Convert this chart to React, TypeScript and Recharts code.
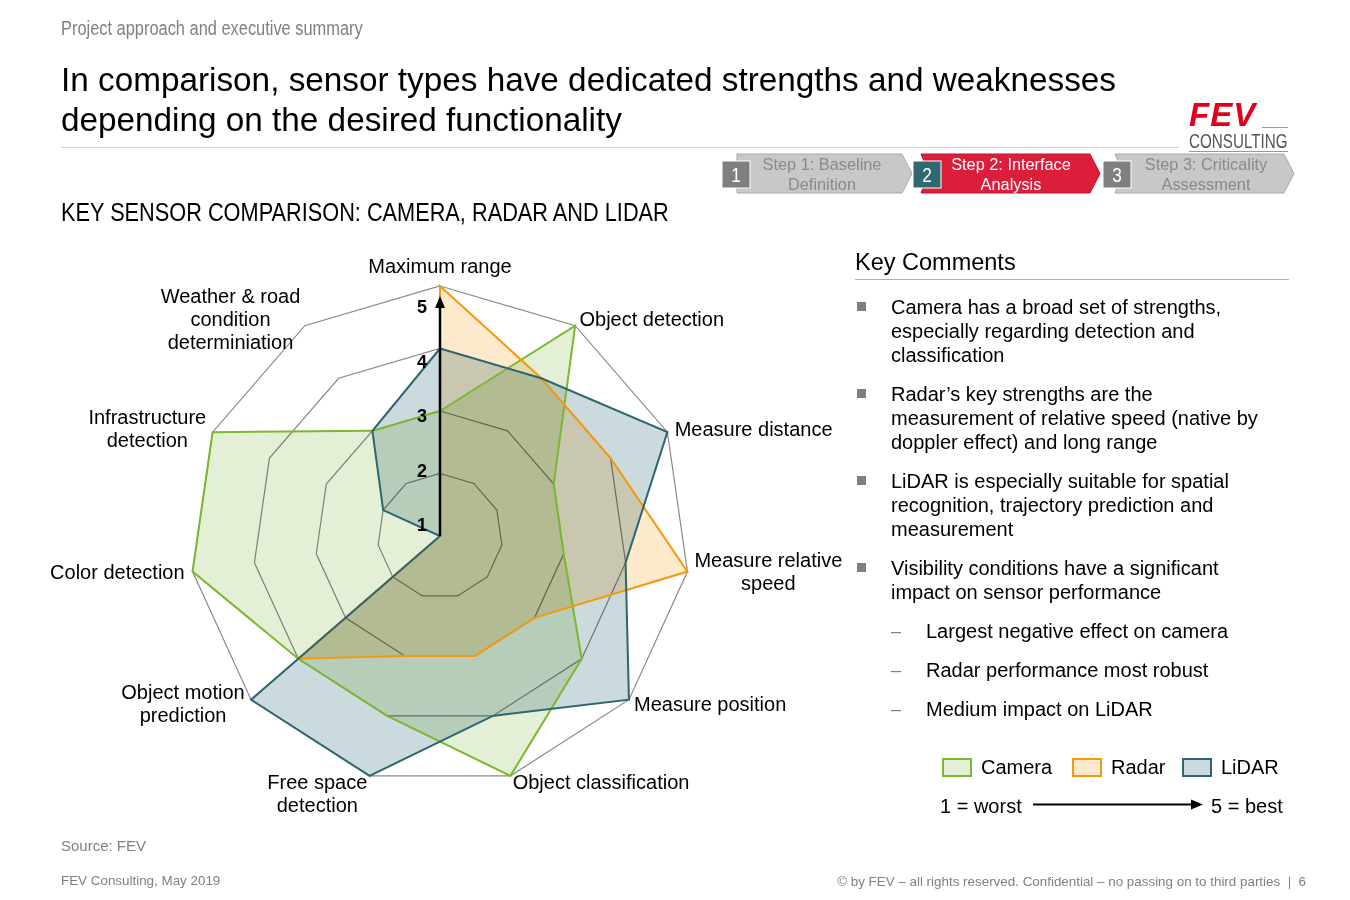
import React from 'react';
import { RadarChart, Radar, PolarGrid, PolarAngleAxis, PolarRadiusAxis } from 'recharts';

// sensor ratings, 1 = worst .. 5 = best, clockwise from the top
const categories = [
  'Maximum range',
  'Object detection',
  'Measure distance',
  'Measure relative\nspeed',
  'Measure position',
  'Object classification',
  'Free space\ndetection',
  'Object motion\nprediction',
  'Color detection',
  'Infrastructure\ndetection',
  'Weather & road\ncondition\ndeterminiation',
];
const camera = [3, 5, 3, 3, 4, 5, 4, 4, 5, 5, 3];
const radar = [5, 4, 4, 5, 3, 3, 3, 4, 1, 1, 1];
const lidar = [4, 4, 5, 4, 5, 4, 5, 5, 1, 2, 3];
const scaleTicks = [1, 2, 3, 4, 5];

const data = categories.map((subject, i) => ({
  subject,
  camera: camera[i],
  radar: radar[i],
  lidar: lidar[i],
}));

const SANS = '"Liberation Sans", Arial, Helvetica, sans-serif';
const NARROW_SCALE = 0.82; // no narrow face installed, so squeeze Liberation Sans

const COLORS = {
  camera: { stroke: '#7cb82f', fill: '#e3f0d6' },
  radar: { stroke: '#f39a0e', fill: '#fde9cb' },
  lidar: { stroke: '#2e6570', fill: '#cbdadd' },
};
const seriesKeys = ['camera', 'radar', 'lidar'] as const;

// chart geometry (chart is placed at page left 0, top 230)
const W = 880;
const H = 620;
const CX = 440;
const CY = 306;
const R = 250;

// where each category label sits relative to the point just outside its axis
const labelLayout: { anchor: 'start' | 'middle' | 'end'; dx: number; dy: number }[] = [
  { anchor: 'middle', dx: 0, dy: -12 },
  { anchor: 'start', dx: 0, dy: 0 },
  { anchor: 'start', dx: 0, dy: 0 },
  { anchor: 'middle', dx: 73, dy: -13 },
  { anchor: 'start', dx: -1, dy: -1 },
  { anchor: 'start', dx: 0, dy: -2 },
  { anchor: 'middle', dx: -50, dy: -2 },
  { anchor: 'middle', dx: -62, dy: -13 },
  { anchor: 'end', dx: 0, dy: -1 },
  { anchor: 'middle', dx: -58, dy: -12 },
  { anchor: 'middle', dx: -70, dy: -23 },
];

function AngleTick(props: any) {
  const label = String(props.payload?.value ?? '');
  const i = typeof props.index === 'number' ? props.index : categories.indexOf(label);
  const a = ((90 - (i * 360) / categories.length) * Math.PI) / 180;
  const x = CX + (R + 8) * Math.cos(a);
  const y = CY - (R + 8) * Math.sin(a);
  const l = labelLayout[i] || { anchor: 'middle', dx: 0, dy: 0 };
  return (
    <text textAnchor={l.anchor} fontSize={20} fill="#000" fontFamily={SANS}>
      {label.split('\n').map((ln, j) => (
        <tspan key={j} x={x + l.dx} y={y + l.dy + j * 23} dy="0.35em">
          {ln}
        </tspan>
      ))}
    </text>
  );
}

function RadiusTick(props: any) {
  const { y, payload } = props;
  const v = payload.value;
  // the scale numbers are drawn a bit compressed towards the centre, as in the slide
  const ly = CY - 11 - (CY - y) * 0.872;
  return (
    <g>
      {v === 5 && (
        <>
          <line x1={CX} y1={CY} x2={CX} y2={y + 18} stroke="#000" strokeWidth={2.5} />
          <polygon points={`${CX},${y + 10} ${CX - 5},${y + 22} ${CX + 5},${y + 22}`} fill="#000" />
        </>
      )}
      <text x={CX - 13} y={ly} dy="0.35em" textAnchor="end" fontWeight="bold" fontSize={18} fontFamily={SANS} fill="#000">
        {v}
      </text>
    </g>
  );
}

function SensorRadar() {
  return (
    <RadarChart
      width={W}
      height={H}
      data={data}
      cx={CX}
      cy={CY}
      outerRadius={R}
      margin={{ top: 0, right: 0, bottom: 0, left: 0 }}
      startAngle={90}
      endAngle={-270}
    >
      <PolarGrid gridType="polygon" radialLines={false} stroke="#8a8a8a" strokeWidth={1.2} />
      <PolarAngleAxis dataKey="subject" tick={AngleTick} tickLine={false} axisLine={false} />
      {/* fills first, blended like overlapping transparencies */}
      {seriesKeys.map((k) => (
        <Radar
          key={`fill-${k}`}
          className="rfill"
          dataKey={k}
          stroke="none"
          fill={COLORS[k].fill}
          fillOpacity={1}
          isAnimationActive={false}
        />
      ))}
      {/* outlines on top */}
      {seriesKeys.map((k) => (
        <Radar
          key={`line-${k}`}
          dataKey={k}
          stroke={COLORS[k].stroke}
          strokeWidth={2}
          fill="none"
          isAnimationActive={false}
        />
      ))}
      <PolarRadiusAxis
        angle={90}
        type="number"
        domain={[1, 5]}
        ticks={scaleTicks as any}
        tickCount={5}
        axisLine={false}
        tickLine={false}
        tick={RadiusTick}
      />
    </RadarChart>
  );
}

function Txt({ x, cy, size, children, color = '#000', lh, narrow, style }: any) {
  const lineH = lh || Math.round(size * 1.2);
  return (
    <div
      style={{
        position: 'absolute',
        left: x,
        top: cy - lineH / 2,
        fontSize: size,
        lineHeight: `${lineH}px`,
        color,
        fontFamily: SANS,
        whiteSpace: 'nowrap',
        transformOrigin: 'left center',
        transform: narrow ? `scaleX(${typeof narrow === 'number' ? narrow : NARROW_SCALE})` : undefined,
        ...style,
      }}
    >
      {children}
    </div>
  );
}

const comments = [
  { y: 307, lines: ['Camera has a broad set of strengths,', 'especially regarding detection and', 'classification'] },
  { y: 394, lines: ['Radar\u2019s key strengths are the', 'measurement of relative speed (native by', 'doppler effect) and long range'] },
  { y: 481, lines: ['LiDAR is especially suitable for spatial', 'recognition, trajectory prediction and', 'measurement'] },
  { y: 568, lines: ['Visibility conditions have a significant', 'impact on sensor performance'] },
];
const subComments = [
  { y: 631, text: 'Largest negative effect on camera' },
  { y: 670, text: 'Radar performance most robust' },
  { y: 709, text: 'Medium impact on LiDAR' },
];

const legendItems = [
  { key: 'camera', label: 'Camera', x: 942 },
  { key: 'radar', label: 'Radar', x: 1072 },
  { key: 'lidar', label: 'LiDAR', x: 1182 },
];

const steps = [
  { num: '1', box: '#7f7f7f', boxX: 722, cx: 822, color: '#8a8a8a', a: 'Step 1: Baseline', b: 'Definition' },
  { num: '2', box: '#2f6870', boxX: 913, cx: 1011, color: '#ffffff', a: 'Step 2: Interface', b: 'Analysis' },
  { num: '3', box: '#7f7f7f', boxX: 1103, cx: 1206, color: '#8a8a8a', a: 'Step 3: Criticality', b: 'Assessment' },
];

function Steps() {
  const grey = '#c8c8c8';
  return (
    <svg width={1350} height={210} style={{ position: 'absolute', left: 0, top: 0 }}>
      <polygon points="737,154 902,154 912,173.5 902,193 737,193" fill={grey} stroke="#a9a9a9" strokeWidth={1} />
      <polygon points="921,154 1090,154 1100,173.5 1090,193 921,193 929,173.5" fill="#dc1e3c" stroke="#c0142f" strokeWidth={1} />
      <polygon points="1115,154 1284,154 1294,173.5 1284,193 1115,193 1123,173.5" fill={grey} stroke="#a9a9a9" strokeWidth={1} />
      {steps.map((s) => (
        <g key={s.num}>
          <rect x={s.boxX} y={161} width={28} height={27} fill={s.box} stroke="#fff" strokeWidth={1} />
          <g transform={`translate(${s.boxX + 14},0) scale(${NARROW_SCALE},1)`}>
            <text x={0} y={175} dy="0.35em" textAnchor="middle" fill="#fff" fontSize={21} fontFamily={SANS}>
              {s.num}
            </text>
          </g>
          <g transform={`translate(${s.cx},0) scale(0.96,1)`}>
            <text textAnchor="middle" fill={s.color} fontSize={17} fontFamily={SANS}>
              <tspan x={0} y={164} dy="0.35em">{s.a}</tspan>
              <tspan x={0} y={184} dy="0.35em">{s.b}</tspan>
            </text>
          </g>
        </g>
      ))}
    </svg>
  );
}

export default function App() {
  return (
    <div style={{ position: 'absolute', left: 0, top: 0, width: 1350, height: 900, background: '#fff', overflow: 'hidden', fontFamily: SANS }}>
      <style>{`.rfill { mix-blend-mode: multiply; }`}</style>

      <Txt x={61} cy={28} size={20} color="#808080" narrow>Project approach and executive summary</Txt>
      <div style={{ position: 'absolute', left: 61, top: 60, fontSize: 33.3, lineHeight: '40px', color: '#000', fontFamily: SANS, whiteSpace: 'nowrap' }}>
        In comparison, sensor types have dedicated strengths and weaknesses
        <br />
        depending on the desired functionality
      </div>
      <div style={{ position: 'absolute', left: 61, top: 147, width: 1118, height: 1, background: '#d4d4d4' }} />

      {/* logo */}
      <Txt x={1189} cy={115} size={33} lh={26} color="#e2001a" style={{ fontWeight: 'bold', fontStyle: 'italic', letterSpacing: 1 }}>FEV</Txt>
      <div style={{ position: 'absolute', left: 1262, top: 127, width: 26, height: 1, background: '#9a9a9a' }} />
      <Txt x={1189} cy={141} size={20} lh={20} color="#555" narrow={0.76}>CONSULTING</Txt>
      <div style={{ position: 'absolute', left: 1189, top: 151, width: 99, height: 1, background: '#9a9a9a' }} />

      <Steps />

      <Txt x={61} cy={212} size={26.5} color="#000" narrow>KEY SENSOR COMPARISON: CAMERA, RADAR AND LIDAR</Txt>

      <div style={{ position: 'absolute', left: 0, top: 230 }}>
        <SensorRadar />
      </div>

      {/* key comments */}
      <Txt x={855} cy={262} size={23.5}>Key Comments</Txt>
      <div style={{ position: 'absolute', left: 855, top: 279, width: 434, height: 1, background: '#b0b0b0' }} />
      {comments.map((c) => (
        <React.Fragment key={c.y}>
          <div style={{ position: 'absolute', left: 857, top: c.y - 5, width: 9, height: 9, background: '#7f7f7f' }} />
          <div style={{ position: 'absolute', left: 891, top: c.y - 12, fontSize: 20, lineHeight: '24px', whiteSpace: 'nowrap', fontFamily: SANS }}>
            {c.lines.map((ln, j) => (
              <div key={j}>{ln}</div>
            ))}
          </div>
        </React.Fragment>
      ))}
      {subComments.map((s) => (
        <React.Fragment key={s.y}>
          <Txt x={891} cy={s.y} size={18} color="#7f7f7f">{'\u2013'}</Txt>
          <Txt x={926} cy={s.y} size={20}>{s.text}</Txt>
        </React.Fragment>
      ))}

      {/* legend */}
      {legendItems.map((it) => {
        const c = (COLORS as any)[it.key];
        return (
          <React.Fragment key={it.key}>
            <div style={{ position: 'absolute', left: it.x, top: 758, width: 30, height: 19, boxSizing: 'border-box', border: `2.5px solid ${c.stroke}`, background: c.fill }} />
            <Txt x={it.x + 39} cy={767} size={20}>{it.label}</Txt>
          </React.Fragment>
        );
      })}
      <Txt x={940} cy={806} size={20}>1 = worst</Txt>
      <svg width={200} height={20} style={{ position: 'absolute', left: 1030, top: 795 }}>
        <line x1={3} y1={9.5} x2={165} y2={9.5} stroke="#000" strokeWidth={2} />
        <polygon points="173,9.5 161,4.5 161,14.5" fill="#000" />
      </svg>
      <Txt x={1211} cy={806} size={20}>5 = best</Txt>

      {/* footer */}
      <Txt x={61} cy={846} size={15} color="#7f7f7f">Source: FEV</Txt>
      <Txt x={61} cy={881} size={13.4} color="#7f7f7f">FEV Consulting, May 2019</Txt>
      <div style={{ position: 'absolute', right: 1350 - 1306, top: 874, fontSize: 13.4, lineHeight: '16px', color: '#7f7f7f', fontFamily: SANS, whiteSpace: 'pre' }}>
        {'\u00a9 by FEV \u2013 all rights reserved. Confidential \u2013 no passing on to third parties  |  6'}
      </div>
    </div>
  );
}
